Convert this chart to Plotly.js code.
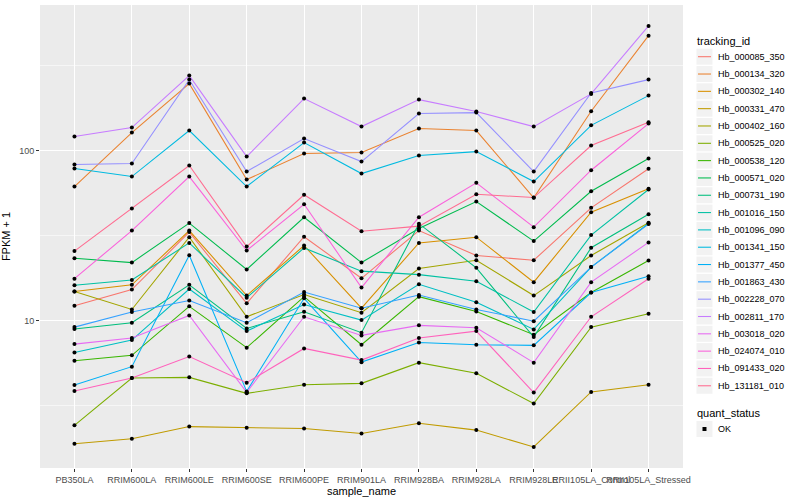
<!DOCTYPE html>
<html><head><meta charset="utf-8">
<script src="https://cdn.plot.ly/plotly-3.0.1.min.js"></script>
<style>html,body{margin:0;padding:0;background:#fff}#chart{width:800px;height:500px}</style>
</head><body><div id="chart"></div>
<script>
// ---- data ----
const samples = ["PB350LA","RRIM600LA","RRIM600LE","RRIM600SE","RRIM600PE","RRIM901LA","RRIM928BA","RRIM928LA","RRIM928LE","RRII105LA_Control","RRII105LA_Stressed"];
const trackingIds = ["Hb_000085_350","Hb_000134_320","Hb_000302_140","Hb_000331_470","Hb_000402_160","Hb_000525_020","Hb_000538_120","Hb_000571_020","Hb_000731_190","Hb_001016_150","Hb_001096_090","Hb_001341_150","Hb_001377_450","Hb_001863_430","Hb_002228_070","Hb_002811_170","Hb_003018_020","Hb_024074_010","Hb_091433_020","Hb_131181_010"];
const seriesColors = ["#F8766D","#EA8331","#D89000","#C09B00","#A3A500","#7CAE00","#39B600","#00BB4E","#00BF7D","#00C1A3","#00BFC4","#00BAE0","#00B0F6","#35A2FF","#9590FF","#C77CFF","#E76BF3","#FA62DB","#FF62BC","#FF6C91"];
const quantStatus = ["OK"];
const yTickVals = [10, 100];
const yTickText = ["10", "100"];
const yMinorVals = [3.162, 31.62, 316.2];

const Hb_000085_350 = [12.2, 15.2, 33.1, 12.6, 31.1, 17.7, 33.8, 24.1, 22.6, 46.0, 78.1];
const Hb_000134_320 = [61.4, 127.6, 247.8, 67.5, 96.0, 97.3, 134.7, 131.1, 52.7, 170.3, 474.9];
const Hb_000302_140 = [14.8, 16.2, 33.8, 14.0, 27.6, 11.8, 28.6, 30.9, 16.8, 43.4, 59.5];
const Hb_000331_470 = [1.88, 2.01, 2.37, 2.33, 2.31, 2.16, 2.48, 2.26, 1.80, 3.79, 4.18];
const Hb_000402_160 = [14.8, 11.6, 30.9, 10.5, 14.2, 11.1, 20.2, 22.6, 14.0, 24.1, 37.6];
const Hb_000525_020 = [2.41, 4.58, 4.62, 3.72, 4.18, 4.26, 5.64, 4.88, 3.24, 9.13, 10.95];
const Hb_000538_120 = [5.79, 6.23, 12.1, 6.91, 13.8, 7.19, 13.8, 11.3, 8.24, 14.6, 22.5];
const Hb_000571_020 = [23.2, 21.9, 37.4, 19.95, 40.5, 21.9, 34.8, 50.1, 29.3, 57.6, 89.7];
const Hb_000731_190 = [8.89, 9.69, 16.2, 8.97, 11.25, 8.47, 37.1, 20.4, 7.98, 26.8, 42.2];
const Hb_001016_150 = [16.1, 17.3, 28.6, 13.6, 26.7, 19.5, 18.6, 17.0, 11.2, 31.8, 59.0];
const Hb_001096_090 = [6.48, 7.66, 15.3, 8.65, 12.4, 10.04, 16.3, 12.8, 8.85, 20.6, 37.2];
const Hb_001341_150 = [78.4, 70.3, 131.1, 61.4, 111.5, 73.2, 93.5, 98.6, 65.7, 140.8, 210.6];
const Hb_001377_450 = [4.16, 5.34, 24.2, 3.82, 13.5, 5.68, 7.42, 7.19, 7.13, 14.6, 18.2];
const Hb_001863_430 = [9.13, 11.2, 13.1, 9.69, 14.7, 11.8, 14.1, 11.6, 9.9, 20.6, 36.9];
const Hb_002228_070 = [82.7, 83.8, 261.6, 75.2, 117.7, 86.1, 165.1, 167.3, 75.2, 218.5, 261.6];
const Hb_002811_170 = [120.9, 136.6, 276.2, 92.2, 202.2, 138.4, 199.5, 169.6, 138.4, 215.6, 541.5];
const Hb_003018_020 = [7.25, 7.87, 10.7, 3.77, 10.5, 8.16, 9.35, 9.06, 5.64, 16.8, 28.8];
const Hb_024074_010 = [17.6, 33.8, 70.3, 25.8, 48.3, 15.6, 40.5, 64.6, 35.4, 76.6, 144.1];
const Hb_091433_020 = [3.84, 4.58, 6.12, 4.30, 6.84, 5.84, 7.87, 8.65, 3.76, 10.5, 17.6];
const Hb_131181_010 = [25.6, 45.6, 81.6, 27.2, 54.9, 33.5, 35.9, 55.3, 52.9, 107.0, 146.7];

const seriesValues = [Hb_000085_350, Hb_000134_320, Hb_000302_140, Hb_000331_470, Hb_000402_160, Hb_000525_020, Hb_000538_120, Hb_000571_020, Hb_000731_190, Hb_001016_150, Hb_001096_090, Hb_001341_150, Hb_001377_450, Hb_001863_430, Hb_002228_070, Hb_002811_170, Hb_003018_020, Hb_024074_010, Hb_091433_020, Hb_131181_010];

// ---- layout geometry (pixels) ----
const W = 800, H = 500;
const M = {l: 40, r: 116.5, t: 5, b: 32};
const plotW = W - M.l - M.r, plotH = H - M.t - M.b;
const px = v => (v - M.l) / plotW;
const py = v => (H - M.b - v) / plotH;
const FONT = "Liberation Sans, Arial, Helvetica, sans-serif";

// ---- traces: lines first, then points on top ----
const traces = [];
trackingIds.forEach((id, i) => {
  traces.push({type: "scatter", mode: "lines", name: id, x: samples, y: seriesValues[i],
    line: {color: seriesColors[i], width: 1.07}, showlegend: false, hoverinfo: "skip"});
});
trackingIds.forEach((id, i) => {
  traces.push({type: "scatter", mode: "markers", name: quantStatus[0], x: samples, y: seriesValues[i],
    marker: {color: "#000000", size: 4}, showlegend: false, hoverinfo: "skip"});
});

// ---- manual ggplot-style legends ----
const shapes = [], annotations = [];
const legX = 696, keyW = 16, rowH = 17.32, firstRow = 56.7;
annotations.push({xref: "paper", yref: "paper", x: px(legX), y: py(40.7), xanchor: "left", yanchor: "middle",
  text: "tracking_id", showarrow: false, font: {family: FONT, size: 11, color: "#000"}});
trackingIds.forEach((id, i) => {
  const cy = firstRow + i * rowH;
  shapes.push({type: "rect", xref: "paper", yref: "paper", x0: px(legX + 1), x1: px(legX + 1 + keyW),
    y0: py(cy - 8), y1: py(cy + 8), fillcolor: "#F2F2F2", line: {width: 0}, layer: "above"});
  shapes.push({type: "line", xref: "paper", yref: "paper", x0: px(legX + 2.5), x1: px(legX + keyW - 0.5),
    y0: py(cy), y1: py(cy), line: {color: seriesColors[i], width: 1.07}, layer: "above"});
  annotations.push({xref: "paper", yref: "paper", x: px(716.5), y: py(cy), xanchor: "left", yanchor: "middle",
    text: id, showarrow: false, font: {family: FONT, size: 9, color: "#000"}});
});
annotations.push({xref: "paper", yref: "paper", x: px(legX), y: py(412.7), xanchor: "left", yanchor: "middle",
  text: "quant_status", showarrow: false, font: {family: FONT, size: 11, color: "#000"}});
quantStatus.forEach((q, i) => {
  const cy = 429 + i * rowH;
  shapes.push({type: "rect", xref: "paper", yref: "paper", x0: px(legX + 1), x1: px(legX + 1 + keyW),
    y0: py(cy - 8), y1: py(cy + 8), fillcolor: "#F2F2F2", line: {width: 0}, layer: "above"});
  shapes.push({type: "rect", xref: "paper", yref: "paper", x0: px(legX + 9 - 2), x1: px(legX + 9 + 2),
    y0: py(cy - 2), y1: py(cy + 2), fillcolor: "#000", line: {width: 0}, layer: "above"});
  annotations.push({xref: "paper", yref: "paper", x: px(716.5), y: py(cy), xanchor: "left", yanchor: "middle",
    text: q, showarrow: false, font: {family: FONT, size: 9, color: "#000"}});
});

const layout = {
  width: W, height: H,
  margin: M,
  paper_bgcolor: "#FFFFFF",
  plot_bgcolor: "#EBEBEB",
  font: {family: FONT, size: 9, color: "#4D4D4D"},
  showlegend: false,
  xaxis: {
    type: "category", categoryorder: "array", categoryarray: samples,
    range: [-0.6, samples.length - 0.4],
    showgrid: true, gridcolor: "#FFFFFF", gridwidth: 1.07,
    zeroline: false, showline: false,
    ticks: "outside", ticklen: 3, tickwidth: 1, tickcolor: "#333333",
    tickfont: {family: FONT, size: 9, color: "#4D4D4D"},
    tickangle: 0, automargin: false,
    title: {text: "sample_name", font: {family: FONT, size: 11, color: "#000"}, standoff: 2}
  },
  yaxis: {
    type: "log", range: [0.131, 2.857],
    tickmode: "array", tickvals: yTickVals, ticktext: yTickText,
    showgrid: true, gridcolor: "#FFFFFF", gridwidth: 1.07,
    minor: {tickmode: "array", tickvals: yMinorVals, showgrid: true, gridcolor: "#FFFFFF", gridwidth: 0.53, ticks: ""},
    zeroline: false, showline: false,
    ticks: "outside", ticklen: 3, tickwidth: 1, tickcolor: "#333333",
    tickfont: {family: FONT, size: 9, color: "#4D4D4D"},
    automargin: false,
    title: {text: "FPKM + 1", font: {family: FONT, size: 11, color: "#000"}, standoff: 6}
  },
  shapes: shapes,
  annotations: annotations
};

Plotly.newPlot("chart", traces, layout, {displayModeBar: false, staticPlot: true});
</script>
</body></html>
